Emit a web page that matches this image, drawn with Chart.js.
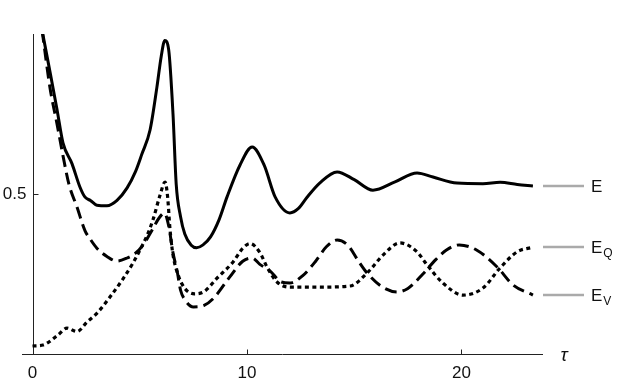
<!DOCTYPE html>
<html>
<head>
<meta charset="utf-8">
<script src="https://cdn.jsdelivr.net/npm/chart.js@4.4.1/dist/chart.umd.min.js"></script>
<style>
  html, body { margin: 0; padding: 0; background: #fff; }
  #wrap { width: 634px; height: 384px; position: relative; }
</style>
</head>
<body>
<div id="wrap"><canvas id="plot"></canvas></div>
<script>
// ---- data ----
var tauE = [0.45, 0.82, 1.14, 1.42, 1.84, 2.21, 2.45, 2.7, 3.0, 3.47, 3.94, 4.41, 4.8, 5.1, 5.48, 5.8, 6.0, 6.17, 6.35, 6.55,
            6.7, 6.9, 7.1, 7.4, 7.65, 7.95, 8.3, 8.7, 9.07, 9.67, 10.24, 10.8, 11.31, 12.0, 12.4, 12.8, 13.4, 14.2, 15.0, 15.87,
            16.9, 17.93, 18.67, 19.79, 21.0, 21.8, 22.6, 23.33];
var valE = [1.01, 0.88, 0.765, 0.66, 0.595, 0.522, 0.49, 0.48, 0.465, 0.463, 0.48, 0.519, 0.57, 0.625, 0.70, 0.834, 0.93, 0.98, 0.95, 0.75,
            0.53, 0.43, 0.375, 0.34, 0.332, 0.341, 0.366, 0.42, 0.491, 0.59, 0.647, 0.59, 0.491, 0.441, 0.455, 0.49, 0.535, 0.569, 0.545, 0.512,
            0.538, 0.566, 0.553, 0.534, 0.532, 0.537, 0.53, 0.525];

// dotted curve (ends at the E_Q marker)
var tauQ = [0, 0.49, 1.18, 1.61, 2.07, 2.54, 3.01, 3.61, 4.22, 4.69, 5.01, 5.34, 5.62, 5.94, 6.18, 6.3, 6.41, 6.55, 6.8, 7.1,
            7.55, 8.0, 8.6, 9.35, 9.81, 10.14, 10.61, 10.93, 11.4, 12.0, 13.26, 14.8, 15.6, 16.34, 17.13, 17.93, 18.4, 19.13, 20.07, 21.0,
            21.8, 22.59, 23.33];
var valQ = [0.025, 0.028, 0.059, 0.081, 0.07, 0.1, 0.128, 0.178, 0.235, 0.285, 0.325, 0.37, 0.42, 0.495, 0.5375, 0.49, 0.39, 0.31, 0.245, 0.205,
            0.188, 0.195, 0.237, 0.2875, 0.331, 0.345, 0.316, 0.272, 0.225, 0.209, 0.209, 0.2125, 0.253, 0.309, 0.347, 0.319, 0.278, 0.222, 0.184, 0.206,
            0.269, 0.319, 0.334];

// dashed curve (ends at the E_V marker)
var tauV = [0.45, 0.82, 1.14, 1.42, 1.7, 2.07, 2.45, 2.68, 3.01, 3.47, 3.94, 4.41, 4.8, 5.2, 5.6, 5.9, 6.15, 6.35, 6.55, 6.74,
            6.9, 7.1, 7.5, 8.0, 8.45, 9.2, 9.8, 10.24, 10.6, 11.07, 11.6, 12.0, 12.6, 13.2, 13.7, 14.2, 14.7, 15.2, 15.6, 16.3,
            17.0, 17.5, 18.2, 18.8, 19.3, 19.9, 20.7, 21.66, 22.4, 23.33];
var valV = [1.01, 0.83, 0.72, 0.62, 0.53, 0.46, 0.385, 0.36, 0.33, 0.305, 0.29, 0.30, 0.315, 0.345, 0.39, 0.425, 0.44, 0.40, 0.316, 0.26,
            0.20, 0.17, 0.147, 0.152, 0.175, 0.241, 0.29, 0.30, 0.28, 0.26, 0.225, 0.222, 0.245, 0.29, 0.335, 0.356, 0.34, 0.29, 0.253, 0.21,
            0.194, 0.205, 0.25, 0.295, 0.325, 0.341, 0.325, 0.272, 0.216, 0.184];

var xTicks = [0, 10, 20];
var yTicks = [0.5];
var endLabels = [
    { main: 'E', sub: '' },
    { main: 'E', sub: 'Q' },
    { main: 'E', sub: 'V' }
];

function pts(xs, ys) {
    return xs.map(function (t, i) { return { x: t, y: ys[i] }; });
}

var FONT = '"Liberation Sans", Arial, sans-serif';

// Mathematica-style axes drawn through the chart scales
var axesPlugin = {
    id: 'mmaAxes',
    beforeDatasetsDraw: function (chart) {
        var ctx = chart.ctx, xs = chart.scales.x, ys = chart.scales.y;
        var x0 = Math.round(xs.getPixelForValue(0)) + 0.5;
        var y0 = Math.round(ys.getPixelForValue(0)) + 0.5;
        ctx.save();
        ctx.strokeStyle = '#222';
        ctx.lineWidth = 1;
        ctx.beginPath();
        ctx.moveTo(xs.left, y0); ctx.lineTo(xs.right, y0);
        ctx.moveTo(x0, ys.top); ctx.lineTo(x0, y0);
        xTicks.forEach(function (t) {
            var px = Math.round(xs.getPixelForValue(t)) + 0.5;
            ctx.moveTo(px, y0); ctx.lineTo(px, y0 - 5);
        });
        yTicks.forEach(function (t) {
            var py = Math.round(ys.getPixelForValue(t)) + 0.5;
            ctx.moveTo(x0, py); ctx.lineTo(x0 + 5, py);
        });
        ctx.stroke();

        ctx.fillStyle = '#111';
        ctx.font = '17px ' + FONT;
        ctx.textAlign = 'center';
        ctx.textBaseline = 'middle';
        xTicks.forEach(function (t) {
            ctx.fillText(String(t), xs.getPixelForValue(t), y0 + 19);
        });
        ctx.textAlign = 'right';
        yTicks.forEach(function (t) {
            ctx.fillText(String(t), x0 - 7, ys.getPixelForValue(t));
        });
        ctx.font = 'italic 19px ' + FONT;
        ctx.textAlign = 'center';
        ctx.fillText('\u03C4', xs.right + 21, y0 + 1);
        ctx.restore();
    },
    afterDatasetsDraw: function (chart) {
        var ctx = chart.ctx, xs = chart.scales.x, ys = chart.scales.y;
        ctx.save();
        chart.data.datasets.forEach(function (ds, i) {
            var last = ds.data[ds.data.length - 1];
            var ly = ys.getPixelForValue(last.y);
            ctx.strokeStyle = '#aaaaaa';
            ctx.lineWidth = 2.5;
            ctx.beginPath();
            ctx.moveTo(xs.right, ly); ctx.lineTo(xs.right + 41, ly);
            ctx.stroke();

            var lab = endLabels[i];
            var lx = xs.right + 48;
            ctx.fillStyle = '#111';
            ctx.textAlign = 'left';
            ctx.textBaseline = 'alphabetic';
            ctx.font = '17px ' + FONT;
            ctx.fillText(lab.main, lx, ly + 6);
            if (lab.sub) {
                var w = ctx.measureText(lab.main).width;
                ctx.font = '12px ' + FONT;
                ctx.fillText(lab.sub, lx + w + 1, ly + 10);
            }
        });
        ctx.restore();
    }
};

new Chart(document.getElementById('plot'), {
    type: 'line',
    data: {
        datasets: [
            { label: 'E', data: pts(tauE, valE), borderColor: '#000', borderWidth: 3, borderDash: [] },
            { label: 'EQ', data: pts(tauQ, valQ), borderColor: '#000', borderWidth: 3.2, borderDash: [4, 3.5] },
            { label: 'EV', data: pts(tauV, valV), borderColor: '#000', borderWidth: 3, borderDash: [12, 6] }
        ]
    },
    options: {
        responsive: true,
        maintainAspectRatio: false,
        animation: false,
        parsing: false,
        layout: { padding: { left: 22, right: 91, top: 34, bottom: 30 } },
        elements: {
            point: { radius: 0 },
            line: { cubicInterpolationMode: 'monotone', fill: false, borderCapStyle: 'butt' }
        },
        plugins: { legend: { display: false }, tooltip: { enabled: false } },
        scales: {
            x: { type: 'linear', min: -0.49, max: 23.8, display: false },
            y: { type: 'linear', min: 0, max: 1, display: false }
        }
    },
    plugins: [axesPlugin]
});
</script>
</body>
</html>
